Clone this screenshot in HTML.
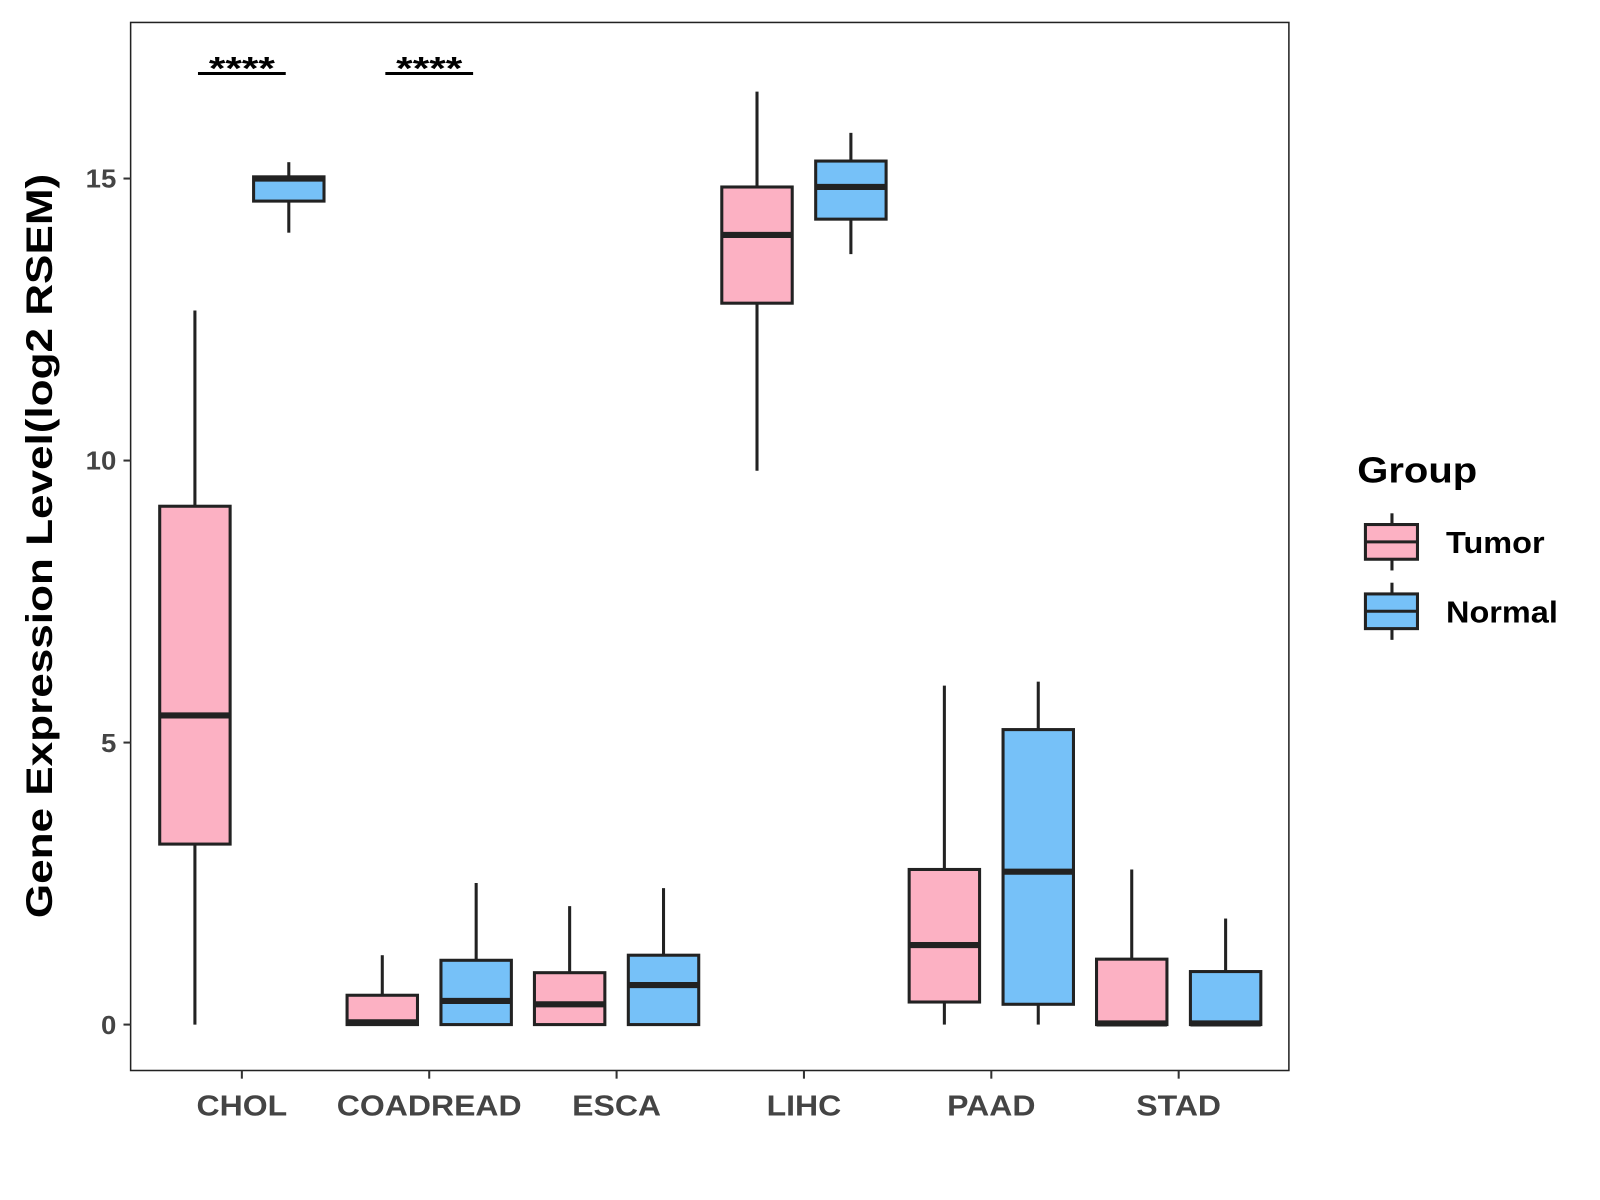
<!DOCTYPE html>
<html><head><meta charset="utf-8"><style>
html,body{margin:0;padding:0;background:#fff}
svg{display:block;font-family:"Liberation Sans",Arial,sans-serif}
</style></head><body>
<svg id="chart" width="1600" height="1200" viewBox="0 0 1600 1200">
<rect x="0" y="0" width="1600" height="1200" fill="#fff"/>
<g id="plot" transform="scale(1.0205)"></g>
</svg>
<script>
const categories = ["CHOL","COADREAD","ESCA","LIHC","PAAD","STAD"];
const groups = ["Tumor","Normal"];
// [low, q1, median, q3, high]
const tumorStats = [[0,3.2,5.48,9.19,12.66],[0,0,0.04,0.52,1.23],[0,0,0.36,0.92,2.1],[9.82,12.79,14.0,14.85,16.54],[0,0.4,1.41,2.75,6.01],[0,0,0.02,1.16,2.75]];
const normalStats = [[14.04,14.6,15.0,15.03,15.29],[0,0,0.42,1.14,2.51],[0,0,0.7,1.23,2.42],[13.66,14.28,14.85,15.31,15.81],[0,0.36,2.71,5.23,6.08],[0,0,0.02,0.94,1.88]];
const yTicks = [0,5,10,15];
const sigCats = ["CHOL","COADREAD"];
const sigLabels = ["****","****"];

const NS="http://www.w3.org/2000/svg";
const plot=document.getElementById('plot');
const L=128,R=1263,T=22,B=1049;
function yS(v){return 1004-v*55.27;}
function xS(i){return 237+i*183.6;}
const colors={Tumor:"#FCB1C3",Normal:"#76C1F8"};
function mk(tag,attrs,parent){const e=document.createElementNS(NS,tag);for(const k in attrs)e.setAttribute(k,attrs[k]);(parent||plot).appendChild(e);return e;}
function stretch(t,f){const w=t.getComputedTextLength();t.setAttribute('textLength',w*f);t.setAttribute('lengthAdjust','spacingAndGlyphs');}

const frame=mk('rect',{x:L,y:T,width:R-L,height:B-T,fill:'none',stroke:'#222','stroke-width':1.5});



yTicks.forEach(t=>{
  const y=yS(t);
  const tk=mk('line',{x1:L-7,x2:L,y1:y,y2:y,stroke:'#333','stroke-width':2});
  
  
  const tx=mk('text',{x:L-14,y:y+9,'text-anchor':'end','font-size':25,'font-weight':'bold',fill:'#444'});
  tx.textContent=t;
  
  
  stretch(tx,1.08);
});
categories.forEach((c,i)=>{
  const x=xS(i);
  const tk=mk('line',{x1:x,x2:x,y1:B,y2:B+8,stroke:'#333','stroke-width':2});
  
  
  const tx=mk('text',{x:x,y:1093,'text-anchor':'middle','font-size':28,'font-weight':'bold',fill:'#444'});
  tx.textContent=c;
  
  
  stretch(tx,1.12);
});
const yt=mk('text',{x:0,y:0,transform:'translate(51,535) rotate(-90)','text-anchor':'middle','font-size':36,'font-weight':'bold',fill:'#000'});
yt.textContent="Gene Expression Level(log2 RSEM)";


stretch(yt,1.2);

function box(cx,s,fill,name){
  const g=mk('g',{});
  
  
  const w=69;
  mk('line',{x1:cx,x2:cx,y1:yS(s[4]),y2:yS(s[3]),stroke:'#222','stroke-width':3},g);
  mk('line',{x1:cx,x2:cx,y1:yS(s[1]),y2:yS(s[0]),stroke:'#222','stroke-width':3},g);
  mk('rect',{x:cx-w/2,y:yS(s[3]),width:w,height:Math.max(0.5,yS(s[1])-yS(s[3])),fill:fill,stroke:'#222','stroke-width':3},g);
  mk('line',{x1:cx-w/2,x2:cx+w/2,y1:yS(s[2]),y2:yS(s[2]),stroke:'#222','stroke-width':6},g);
}
categories.forEach((c,i)=>{
  box(xS(i)-46,tumorStats[i],colors.Tumor,'box-tumor-'+c.toLowerCase());
  box(xS(i)+46,normalStats[i],colors.Normal,'box-normal-'+c.toLowerCase());
});
sigCats.forEach((c,k)=>{
  const i=categories.indexOf(c);const x=xS(i);
  const ln=mk('line',{x1:x-43,x2:x+43,y1:72,y2:72,stroke:'#000','stroke-width':3});
  
  
  const tx=mk('text',{x:x,y:78,'text-anchor':'middle','font-size':32,'font-weight':'bold',fill:'#000'});
  tx.textContent=sigLabels[k];
  
  
  stretch(tx,1.3);
});
// legend
const lt=mk('text',{x:1330,y:473,'font-size':35,'font-weight':'bold',fill:'#000'});
lt.textContent="Group";


stretch(lt,1.12);
groups.forEach((gname,k)=>{
  const y0=514+k*68;
  const g=mk('g',{});
  
  
  mk('line',{x1:1364,x2:1364,y1:y0-11,y2:y0+45,stroke:'#222','stroke-width':3},g);
  mk('rect',{x:1338,y:y0,width:51,height:34,fill:colors[gname],stroke:'#222','stroke-width':3},g);
  mk('line',{x1:1338,x2:1389,y1:y0+17,y2:y0+17,stroke:'#222','stroke-width':3},g);
  const tx=mk('text',{x:1417,y:y0+28,'font-size':30,'font-weight':'bold',fill:'#000'},g);
  tx.textContent=gname;
  stretch(tx,1.06);
});
</script>
</body></html>
